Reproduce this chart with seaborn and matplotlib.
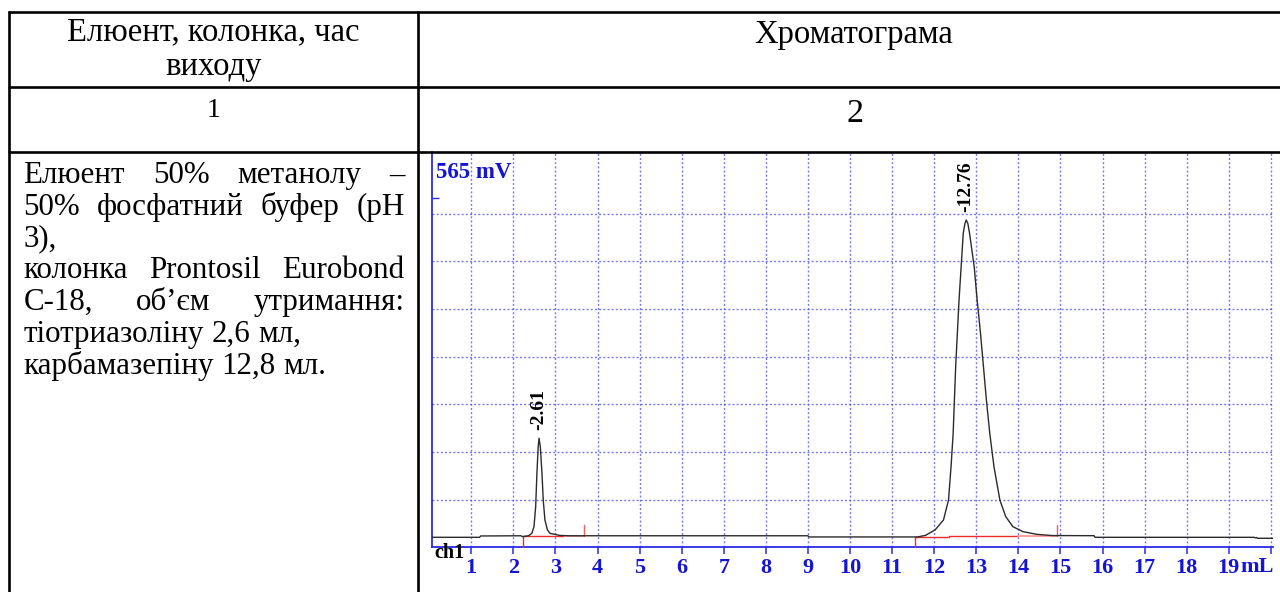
import matplotlib
matplotlib.use("Agg")
import matplotlib.pyplot as plt
from matplotlib.lines import Line2D
import pandas as pd
import seaborn as sns

# ---- chromatogram trace (elution volume, mL / detector signal, mV) ----
volume_ml = [
    0.07, 1.20, 1.22, 2.18, 2.22, 2.27, 2.36, 2.44, 2.49, 2.53, 2.56, 2.59,
    2.61, 2.64, 2.68, 2.71, 2.75, 2.81, 2.87, 2.99, 3.10, 3.30, 9.00, 9.02,
    11.60, 11.79, 12.02, 12.22, 12.34, 12.40, 12.45, 12.48, 12.51, 12.55,
    12.59, 12.64, 12.69, 12.73, 12.76, 12.80, 12.84, 12.95, 13.02, 13.10,
    13.17, 13.24, 13.32, 13.42, 13.56, 13.70, 13.87, 14.11, 14.43, 14.80,
    15.80, 15.82, 19.60, 19.63, 19.66, 19.68, 20.05,
]
signal_mv = [
    14.3, 14.3, 16.2, 16.5, 15.2, 15.8, 16.5, 20.0, 29.5, 58.0, 106.0, 144.0,
    156.0, 144.0, 106.0, 67.7, 39.0, 24.8, 20.0, 18.5, 17.0, 16.5, 16.5, 14.8,
    14.8, 17.0, 24.8, 39.0, 67.7, 115.3, 163.0, 210.7, 258.4, 306.0,
    353.7, 401.4, 449.1, 463.0, 468.2, 463.0, 449.1, 401.4, 353.7, 306.0,
    258.4, 210.7, 163.0, 115.3, 67.7, 43.8, 29.5, 22.4, 18.6, 16.8,
    16.6, 14.3, 14.3, 13.5, 14.0, 12.9, 12.9,
]

# labelled peaks (retention volume, mL)
peak_volumes = [2.61, 12.76]
peak_heights = [156.0, 468.2]

# integration baselines drawn by the data system
drop_x = [2.22, 11.54]
drop_top = [15.5, 14.3]
base_x = [[2.22, 2.60, 2.60, 3.21], [11.54, 12.35, 12.35, 14.00]]
base_y = [[15.5, 15.5, 16.5, 16.5], [14.3, 14.3, 15.7, 15.7]]
tail_x = [[3.21, 3.69], [14.00, 14.91]]
tail_y = [[16.5, 16.5], [16.7, 16.7]]
end_x = [3.69, 14.91]
end_bottom = [16.5, 16.7]
end_top = [31.4, 31.8]

x_ticks = list(range(1, 21))
x_tick_labels = [str(v) for v in range(1, 20)] + [""]
full_scale_mv = 565
grid_step_mv = 68.2
grid_count = 7
scale_mark_mv = 500

# ---- table text ----
header_left = ["Елюент, колонка, час", "виходу"]
header_right = "Хроматограма"
col_numbers = ["1", "2"]
body_lines = [
    (["Елюент", "50%", "метанолу", "–"], True),
    (["50%", "фосфатний", "буфер", "(pH"], True),
    (["3),"], False),
    (["колонка", "Prontosil", "Eurobond"], True),
    (["C-18,", "об’єм", "утримання:"], True),
    (["тіотриазоліну", "2,6", "мл,"], False),
    (["карбамазепіну", "12,8", "мл."], False),
]

W, H = 1280, 592
sns.set_theme(style="white")
plt.rcParams["font.family"] = ["Liberation Serif", "DejaVu Serif"]
plt.rcParams["text.color"] = "black"

fig = plt.figure(figsize=(W / 100, H / 100), dpi=100)
fig.patch.set_facecolor("white")


def fx(x):
    return x / W


def fy(y):
    return 1 - y / H


# ---- table grid ----
table_kw = dict(color="black", lw=1.9, solid_capstyle="butt")
for y in (12.3, 87.0, 152.3):
    fig.add_artist(Line2D([fx(8), fx(1280)], [fy(y), fy(y)], **table_kw))
for x in (9.3, 418.0):
    fig.add_artist(Line2D([fx(x), fx(x)], [fy(11.3), fy(592)], **table_kw))

# header cells
head_size = 23.5
fig.text(fx(213.5), fy(40.7), header_left[0], ha="center", va="baseline", fontsize=head_size)
fig.text(fx(213.5), fy(75.5), header_left[1], ha="center", va="baseline", fontsize=head_size)
fig.text(fx(853.3), fy(42.7), header_right, ha="center", va="baseline", fontsize=head_size)
fig.text(fx(213.5), fy(116.7), col_numbers[0], ha="center", va="baseline", fontsize=20)
fig.text(fx(855.0), fy(121.7), col_numbers[1], ha="center", va="baseline", fontsize=24.5)

# justified description in the left cell
renderer = fig.canvas.get_renderer()
left_px, right_px = 23.3, 404.5
first_base, line_gap = 182.7, 31.9
body_size = 22.3
probe_pair = fig.text(0, 0, "a a", fontsize=body_size)
probe_one = fig.text(0, 0, "a", fontsize=body_size)
space_px = (probe_pair.get_window_extent(renderer).width
            - 2 * probe_one.get_window_extent(renderer).width)
probe_pair.remove()
probe_one.remove()
for i, (words, justify) in enumerate(body_lines):
    yb = first_base + i * line_gap
    objs = [fig.text(0, fy(yb), w, ha="left", va="baseline", fontsize=body_size) for w in words]
    widths = [o.get_window_extent(renderer).width for o in objs]
    if justify and len(words) > 1:
        gap = (right_px - left_px - sum(widths)) / (len(words) - 1)
    else:
        gap = space_px
    x = left_px
    for o, w in zip(objs, widths):
        o.set_x(fx(x))
        x += w + gap

# ---- chromatogram ----
ax = fig.add_axes([fx(432.3), fy(547.3), (1273 - 432.3) / W, (547.3 - 152.3) / H])
ax.set_facecolor("white")
ax.set_axisbelow(True)

grid_blue = "#5a5aff"
axis_blue = "#2a2ae8"
label_blue = "#1414d2"

trace = pd.DataFrame({"volume": volume_ml, "signal": signal_mv})
sns.lineplot(data=trace, x="volume", y="signal", ax=ax, sort=False, estimator=None,
             color="#2b2b2b", lw=1.0, zorder=4)

red, pink = "#ee2b2b", "#ff9a9a"
for xs, ys in zip(base_x, base_y):
    ax.plot(xs, ys, color=red, lw=1.0, zorder=3)
for xs, ys in zip(tail_x, tail_y):
    ax.plot(xs, ys, color=pink, lw=1.3, zorder=3)
for x, top in zip(drop_x, drop_top):
    ax.plot([x, x], [0, top], color=red, lw=1.0, zorder=3, clip_on=False)
for x, b, t in zip(end_x, end_bottom, end_top):
    ax.plot([x, x], [b, t], color="#f06060", lw=1.0, zorder=3)

ax.set_xlim(0.074, 20.05)
ax.set_ylim(0, full_scale_mv)
ax.set_xticks(x_ticks)
ax.set_xticklabels(x_tick_labels)
ax.set_yticks([grid_step_mv * k for k in range(1, grid_count + 1)])
ax.set_yticklabels([])
ax.set_yticks([scale_mark_mv], minor=True)
ax.tick_params(axis="y", which="major", length=0)
ax.tick_params(axis="y", which="minor", direction="in", length=5, width=1, color=axis_blue, left=True)
ax.tick_params(axis="x", which="major", direction="out", length=5, width=1.1, color=axis_blue,
               bottom=True, pad=3.0, labelsize=16, labelcolor=label_blue)
for lab in ax.get_xticklabels():
    lab.set_fontweight("bold")
ax.grid(True, which="major", color=grid_blue, lw=1.0, linestyle=(0, (1.4, 1.6)), alpha=0.85)
ax.set_xlabel("")
ax.set_ylabel("")
for side in ("top", "right"):
    ax.spines[side].set_visible(False)
for side in ("left", "bottom"):
    ax.spines[side].set_color(axis_blue)
    ax.spines[side].set_linewidth(1.3)

# unit suffix after the last tick label
ax.annotate("mL", xy=(19, 0), xycoords="data", xytext=(8.0, -14.0), textcoords="offset points",
            ha="left", va="center", fontsize=16, fontweight="bold", color=label_blue,
            annotation_clip=False)

# peak retention labels
for pv, ph in zip(peak_volumes, peak_heights):
    ax.annotate(f"-{pv:.2f}", xy=(pv, ph), xytext=(3.0, 6.0), textcoords="offset points",
                rotation=90, rotation_mode="anchor", ha="left", va="baseline",
                fontsize=14, fontweight="bold", color="black")

fig.text(fx(435.7), fy(178), f"{full_scale_mv} mV", ha="left", va="baseline",
         fontsize=16.5, fontweight="bold", color=label_blue)
fig.text(fx(434), fy(558), "ch1", ha="left", va="baseline", fontsize=14.5,
         fontweight="bold", color="black")

fig.savefig("out.png", dpi=100, facecolor="white")
